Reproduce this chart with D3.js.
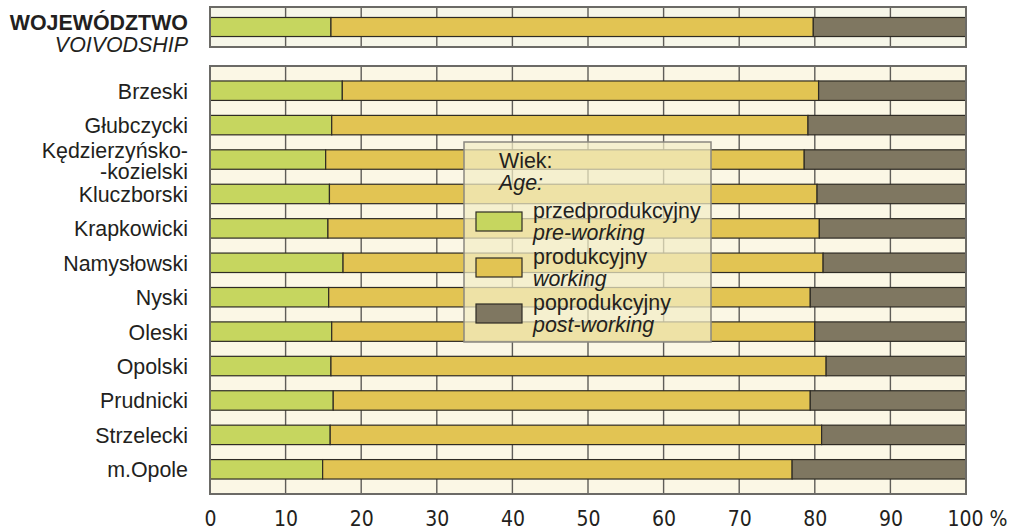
<!DOCTYPE html>
<html>
<head>
<meta charset="utf-8">
<title>Ludność według wieku</title>
<script src="https://d3js.org/d3.v7.min.js"></script>
<style>
  body { margin: 0; background: #fff; }
  svg text { font-family: "Liberation Sans", Arial, sans-serif; fill: #231f20; }
  .axis text { font-family: "Liberation Sans Narrow", "DejaVu Sans Condensed", sans-serif; font-stretch: condensed; }
</style>
</head>
<body>
<div id="chart"></div>
<script>
// county names (two-line names split with \n)
var categories = ["Brzeski", "Głubczycki", "Kędzierzyńsko-\n-kozielski", "Kluczborski",
  "Krapkowicki", "Namysłowski", "Nyski", "Oleski", "Opolski", "Prudnicki",
  "Strzelecki", "m.Opole"];

// share of population, %
var preWorking  = [17.5, 16.1, 15.3, 15.8, 15.6, 17.6, 15.7, 16.1, 16.0, 16.3, 15.9, 14.9];
var working     = [63.0, 63.0, 63.3, 64.5, 65.0, 63.5, 63.7, 63.9, 65.5, 63.1, 65.0, 62.1];
var postWorking = [19.5, 20.9, 21.4, 19.7, 19.4, 18.9, 20.6, 20.0, 18.5, 20.6, 19.1, 23.0];

// voivodship total
var totalValues = [16.0, 63.8, 20.2];

var tickValues = [0, 10, 20, 30, 40, 50, 60, 70, 80, 90, 100];

var seriesNames = [["przedprodukcyjny", "pre-working"], ["produkcyjny", "working"], ["poprodukcyjny", "post-working"]];
var colors = ["#c6d65f", "#e2c453", "#7f7761"];

var width = 1010, height = 530;
var fs = 21.4;
var svg = d3.select("#chart").append("svg")
  .attr("width", width).attr("height", height);

var x = d3.scaleLinear().domain([0, 100]).range([210, 966]);

var yTop = d3.scaleBand().domain(["total"]).range([7, 47]).paddingInner(0).paddingOuter(0.55);
var y = d3.scaleBand().domain(categories).range([66, 494]).paddingInner(0.435).paddingOuter(0.435);

function panel(y0, y1, fill) {
  svg.append("rect")
    .attr("x", x(0)).attr("y", y0)
    .attr("width", x(100) - x(0)).attr("height", y1 - y0)
    .attr("fill", fill);
  svg.append("g").selectAll("line")
    .data(tickValues.slice(1, -1))
    .enter().append("line")
    .attr("x1", function(d) { return x(d); })
    .attr("x2", function(d) { return x(d); })
    .attr("y1", y0).attr("y2", y1)
    .attr("stroke", "#5f5d58").attr("stroke-width", 1.4);
}

function frame(y0, y1) {
  svg.append("rect")
    .attr("x", x(0)).attr("y", y0)
    .attr("width", x(100) - x(0)).attr("height", y1 - y0)
    .attr("fill", "none").attr("stroke", "#6b6a66").attr("stroke-width", 2);
}

function stackRow(vals, yy, h) {
  var acc = 0;
  var segs = vals.map(function(v, i) {
    var s = { x0: acc, x1: acc + v, i: i };
    acc += v;
    return s;
  });
  svg.append("g").selectAll("rect")
    .data(segs)
    .enter().append("rect")
    .attr("x", function(d) { return x(d.x0); })
    .attr("width", function(d) { return x(d.x1) - x(d.x0); })
    .attr("y", yy).attr("height", h)
    .attr("fill", function(d) { return colors[d.i]; })
    .attr("stroke", "#2e2b24").attr("stroke-width", 1.2);
}

// top panel: voivodship
panel(7, 47, "#f6f6e9");
stackRow(totalValues, yTop("total"), yTop.bandwidth());
frame(7, 47);

// main panel
panel(66, 494, "#fbf7e5");
categories.forEach(function(c, i) {
  stackRow([preWorking[i], working[i], postWorking[i]], y(c), y.bandwidth());
});
frame(66, 494);

// row labels
svg.append("g").selectAll("text")
  .data(categories)
  .enter().append("text")
  .attr("text-anchor", "end")
  .attr("font-size", fs)
  .each(function(d) {
    var lines = d.split("\n");
    var cy = y(d) + y.bandwidth() / 2;
    var t = d3.select(this);
    lines.forEach(function(l, k) {
      t.append("tspan")
        .attr("x", 188)
        .attr("y", cy + 8 + (k - (lines.length - 1) / 2) * 21 + (lines.length > 1 ? 1 : 0))
        .text(l);
    });
  });

svg.append("text").attr("x", 188).attr("y", 30)
  .attr("text-anchor", "end").attr("font-size", fs).attr("font-weight", "bold")
  .text("WOJEWÓDZTWO");
svg.append("text").attr("x", 188).attr("y", 52)
  .attr("text-anchor", "end").attr("font-size", fs).attr("font-style", "italic")
  .text("VOIVODSHIP");

// x axis labels
var axis = svg.append("g").attr("class", "axis")
  .attr("transform", "translate(0,507)")
  .call(d3.axisBottom(x).tickValues(tickValues).tickSize(0).tickPadding(0)
    .tickFormat(function(d) { return d === 100 ? "100" : d; }));
axis.select(".domain").remove();
axis.selectAll("text").attr("font-size", 21).attr("dy", "0.9em").style("fill", "#231f20");
axis.selectAll(".tick").filter(function(d) { return d === 100; })
  .select("text").append("tspan").text(" %");
axis.selectAll(".tick").filter(function(d) { return d === 100; })
  .select("text").attr("text-anchor", "start").attr("x", -19);

// legend
var lg = svg.append("g").attr("transform", "translate(464,142)");
lg.append("rect").attr("width", 247).attr("height", 200)
  .attr("fill", "#f2edc6").attr("fill-opacity", 0.72)
  .attr("stroke", "#8a8880").attr("stroke-width", 1.5);
lg.append("text").attr("x", 35).attr("y", 26).attr("font-size", fs).text("Wiek:");
lg.append("text").attr("x", 35).attr("y", 48).attr("font-size", fs).attr("font-style", "italic").text("Age:");
var items = lg.selectAll("g.item")
  .data(seriesNames)
  .enter().append("g").attr("class", "item")
  .attr("transform", function(d, i) { return "translate(0," + (70 + i * 46) + ")"; });
items.append("rect").attr("x", 12).attr("y", 0).attr("width", 46).attr("height", 19)
  .attr("fill", function(d, i) { return colors[i]; })
  .attr("stroke", "#2e2b24").attr("stroke-width", 1.2);
items.append("text").attr("x", 69).attr("y", 6).attr("font-size", fs)
  .text(function(d) { return d[0]; });
items.append("text").attr("x", 69).attr("y", 28).attr("font-size", fs).attr("font-style", "italic")
  .text(function(d) { return d[1]; });
</script>
</body>
</html>
